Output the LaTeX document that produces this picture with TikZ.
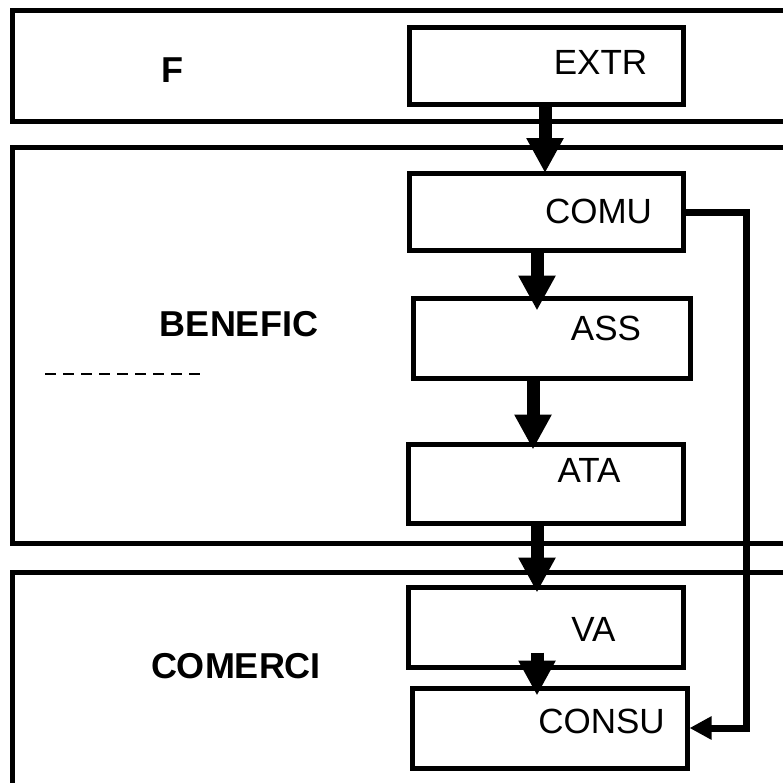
\documentclass[tikz,border=0pt]{standalone}
\usepackage{fontspec}
\setmainfont{Liberation Sans}
\usetikzlibrary{arrows.meta}
\begin{document}
\begin{tikzpicture}[x=1pt,y=-1pt,
  stage/.style={draw,line width=5pt},
  stepbox/.style={draw,line width=5pt,minimum width=#1,inner sep=0pt,anchor=center},
  label/.style={font=\fontsize{35}{35}\selectfont,inner sep=0pt},
  phase/.style={font=\fontsize{36}{36}\selectfont\bfseries,inner sep=0pt},
  flow/.style={line width=13pt,-{Triangle[length=35pt,width=35pt]}},
  back/.style={line width=7pt,-{Triangle[length=22pt,width=22pt]}}]
\useasboundingbox (0,0) rectangle (783,782);
\clip (0,0) rectangle (783,782);

% phase frames (running off the right and bottom edges)
\draw[stage] (12,10) rectangle (800,121);
\draw[stage] (12,147) rectangle (800,543);
\draw[stage] (12,572) rectangle (800,800);

\node[phase] (f) at (172,70) {F};
\node[phase] (benef) at (239,324) {BENEFIC};
\node[phase] (comerc) at (236,666) {COMERCI};
\draw[line width=2pt,dash pattern=on 11pt off 7pt] (45,374) -- (207,374);

% process steps
\node[stepbox=274pt,minimum height=77pt] (extr) at (546,65.5) {};
\node[stepbox=274pt,minimum height=77pt] (comu) at (546,212) {};
\node[stepbox=277pt,minimum height=80pt] (ass) at (551.5,338) {};
\node[stepbox=275pt,minimum height=79pt] (ata) at (545.5,483.5) {};
\node[stepbox=275pt,minimum height=80pt] (va) at (545.5,627) {};
\node[stepbox=275pt,minimum height=80pt] (consu) at (549.5,728) {};

\node[label] (extrT) at (600.5,62) {EXTR};
\node[label] (comuT) at (598.5,211.5) {COMU};
\node[label] (assT) at (606,328.5) {ASS};
\node[label] (ataT) at (589,470) {ATA};
\node[label] (vaT) at (593.5,629.5) {VA};
\node[label] (consuT) at (601.5,721.5) {CONSU};

% main flow
\draw[flow] ([xshift=-1pt]extr.south) -- ([xshift=-1pt,yshift=-2pt]comu.north);
\draw[flow] ([xshift=-9pt]comu.south) -- ([xshift=-14.5pt,yshift=-15pt]ass.north);
\draw[flow] ([xshift=-18.5pt]ass.south) -- ([xshift=-12.5pt,yshift=-8pt]ata.north);
\draw[flow] ([xshift=-8.5pt]ata.south) -- ([xshift=-8.5pt,yshift=-8pt]va.north);
\draw[flow] ([xshift=-8.5pt,yshift=17pt]va.south) -- ([xshift=-12.5pt,yshift=-10pt]consu.north);

% return path
\draw[back] (comu.east) -- (746,212) -- (746,728) -- (consu.east);
\end{tikzpicture}
\end{document}
